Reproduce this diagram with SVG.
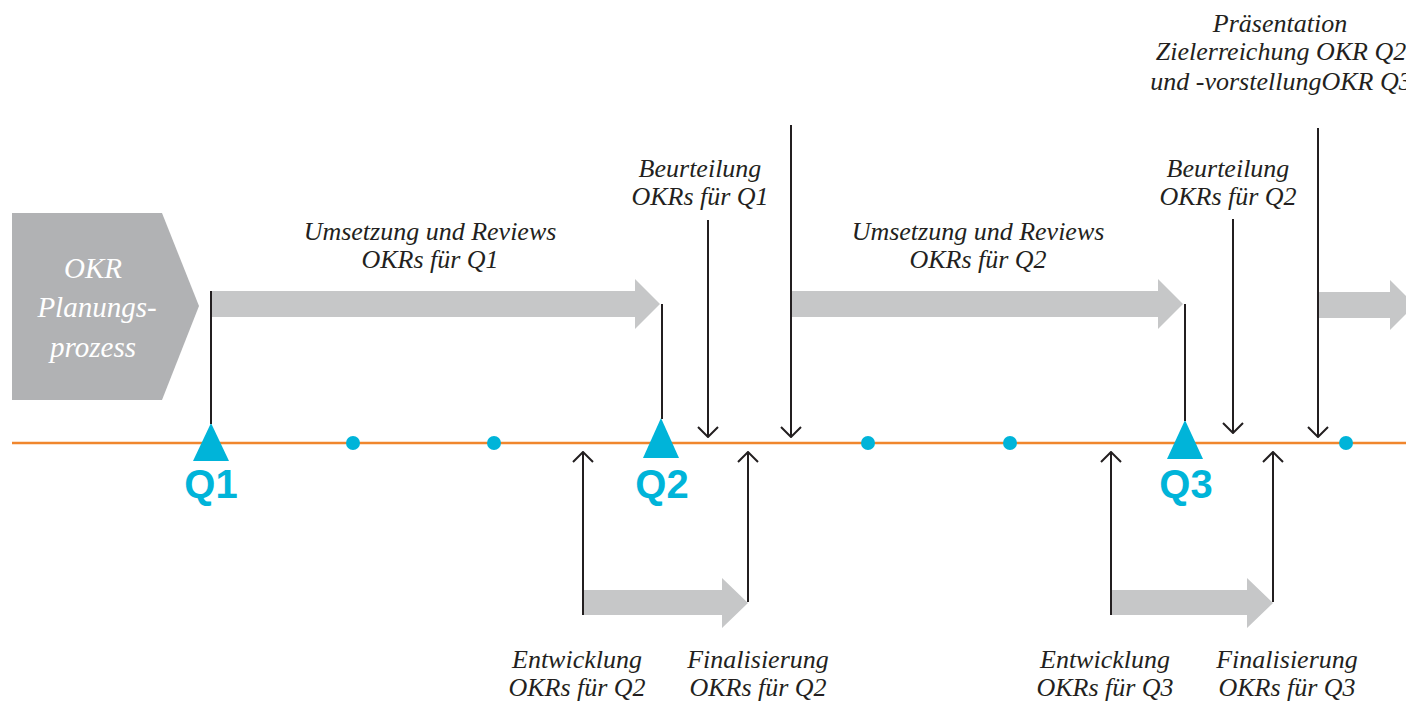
<svg xmlns="http://www.w3.org/2000/svg" width="1406" height="704" viewBox="0 0 1406 704">
<defs>
<style>
.lbl{font-family:"Liberation Serif",serif;font-style:italic;font-size:26px;fill:#231f20;text-anchor:middle}
.wl{font-family:"Liberation Serif",serif;font-style:italic;font-size:29px;fill:#ffffff;text-anchor:middle}
.q{font-family:"Liberation Sans",Arial,sans-serif;font-weight:bold;font-size:40px;fill:#00b4d9;text-anchor:middle}
.ln{stroke:#231f20;stroke-width:2;fill:none}
.big{fill:#c6c7c8}
.tri{fill:#00b4d9}
.dot{fill:#00b4d9}
</style>
<marker id="ah" viewBox="0 0 12 22" refX="11" refY="11" markerWidth="12" markerHeight="22" markerUnits="userSpaceOnUse" orient="auto">
<path d="M1,1 L11,11 L1,21" fill="none" stroke="#231f20" stroke-width="2"/>
</marker>
</defs>
<rect width="1406" height="704" fill="#ffffff"/>

<g id="planung">
<polygon points="12,213 162,213 199,306 162,400 12,400" fill="#b1b2b4"/>
<text class="wl" x="93" y="278">OKR</text>
<text class="wl" x="97" y="317">Planungs-</text>
<text class="wl" x="93" y="357">prozess</text>
</g>

<g id="timeline">
<line x1="12" y1="443" x2="1406" y2="443" stroke="#f0862d" stroke-width="2.5"/>
<circle class="dot" cx="353" cy="443" r="7"/>
<circle class="dot" cx="494" cy="443" r="7"/>
<circle class="dot" cx="868" cy="443" r="7"/>
<circle class="dot" cx="1010" cy="443" r="7"/>
<circle class="dot" cx="1346" cy="443" r="7"/>
</g>

<g id="umsetzung-q1">
<polygon class="big" points="211,291 635,291 635,279 660,304 635,329 635,317 211,317"/>
<text class="lbl" x="430" y="240">Umsetzung und Reviews</text>
<text class="lbl" x="430" y="268">OKRs für Q1</text>
</g>
<g id="umsetzung-q2">
<polygon class="big" points="791,291 1158,291 1158,279 1183,304 1158,329 1158,317 791,317"/>
<text class="lbl" x="978" y="240">Umsetzung und Reviews</text>
<text class="lbl" x="978" y="268">OKRs für Q2</text>
</g>
<g id="umsetzung-q3">
<polygon class="big" points="1318,292 1390,292 1390,280 1415,305 1390,330 1390,318 1318,318"/>
</g>
<g id="entwicklung-q2-bar">
<polygon class="big" points="583,590 722,590 722,578 748,603 722,628 722,615 583,615"/>
</g>
<g id="entwicklung-q3-bar">
<polygon class="big" points="1111,590 1247,590 1247,578 1273,603 1247,628 1247,615 1111,615"/>
</g>

<g id="q1">
<polygon class="tri" points="211,423 229,461 193,461"/>
<text class="q" x="211" y="498">Q1</text>
</g>
<g id="q2">
<polygon class="tri" points="661,418 679,458 643,458"/>
<text class="q" x="662" y="498">Q2</text>
</g>
<g id="q3">
<polygon class="tri" points="1185,420 1203,459 1167,459"/>
<text class="q" x="1186" y="498">Q3</text>
</g>

<g id="beurteilung-q1">
<text class="lbl" x="700" y="177">Beurteilung</text>
<text class="lbl" x="700" y="205">OKRs für Q1</text>
</g>
<g id="beurteilung-q2">
<text class="lbl" x="1228" y="177">Beurteilung</text>
<text class="lbl" x="1228" y="205">OKRs für Q2</text>
</g>
<g id="praesentation">
<text class="lbl" x="1280" y="32">Präsentation</text>
<text class="lbl" x="1281" y="60">Zielerreichung OKR Q2</text>
<text class="lbl" x="1281" y="90">und -vorstellungOKR Q3</text>
</g>
<g id="entwicklung-q2">
<text class="lbl" x="577" y="668">Entwicklung</text>
<text class="lbl" x="577" y="696">OKRs für Q2</text>
</g>
<g id="finalisierung-q2">
<text class="lbl" x="758" y="668">Finalisierung</text>
<text class="lbl" x="758" y="696">OKRs für Q2</text>
</g>
<g id="entwicklung-q3">
<text class="lbl" x="1105" y="668">Entwicklung</text>
<text class="lbl" x="1105" y="696">OKRs für Q3</text>
</g>
<g id="finalisierung-q3">
<text class="lbl" x="1287" y="668">Finalisierung</text>
<text class="lbl" x="1287" y="696">OKRs für Q3</text>
</g>

<g id="connectors">
<line class="ln" x1="211" y1="291" x2="211" y2="424"/>
<line class="ln" x1="662" y1="304" x2="662" y2="419"/>
<line class="ln" x1="1185" y1="304" x2="1185" y2="421"/>
<line class="ln" x1="708" y1="220" x2="708" y2="437" marker-end="url(#ah)"/>
<line class="ln" x1="791" y1="125" x2="791" y2="437" marker-end="url(#ah)"/>
<line class="ln" x1="1233" y1="219" x2="1233" y2="433" marker-end="url(#ah)"/>
<line class="ln" x1="1318" y1="128" x2="1318" y2="437" marker-end="url(#ah)"/>
<line class="ln" x1="583" y1="615" x2="583" y2="452" marker-end="url(#ah)"/>
<line class="ln" x1="748" y1="602" x2="748" y2="452" marker-end="url(#ah)"/>
<line class="ln" x1="1111" y1="615" x2="1111" y2="452" marker-end="url(#ah)"/>
<line class="ln" x1="1273" y1="602" x2="1273" y2="452" marker-end="url(#ah)"/>
</g>
</svg>
